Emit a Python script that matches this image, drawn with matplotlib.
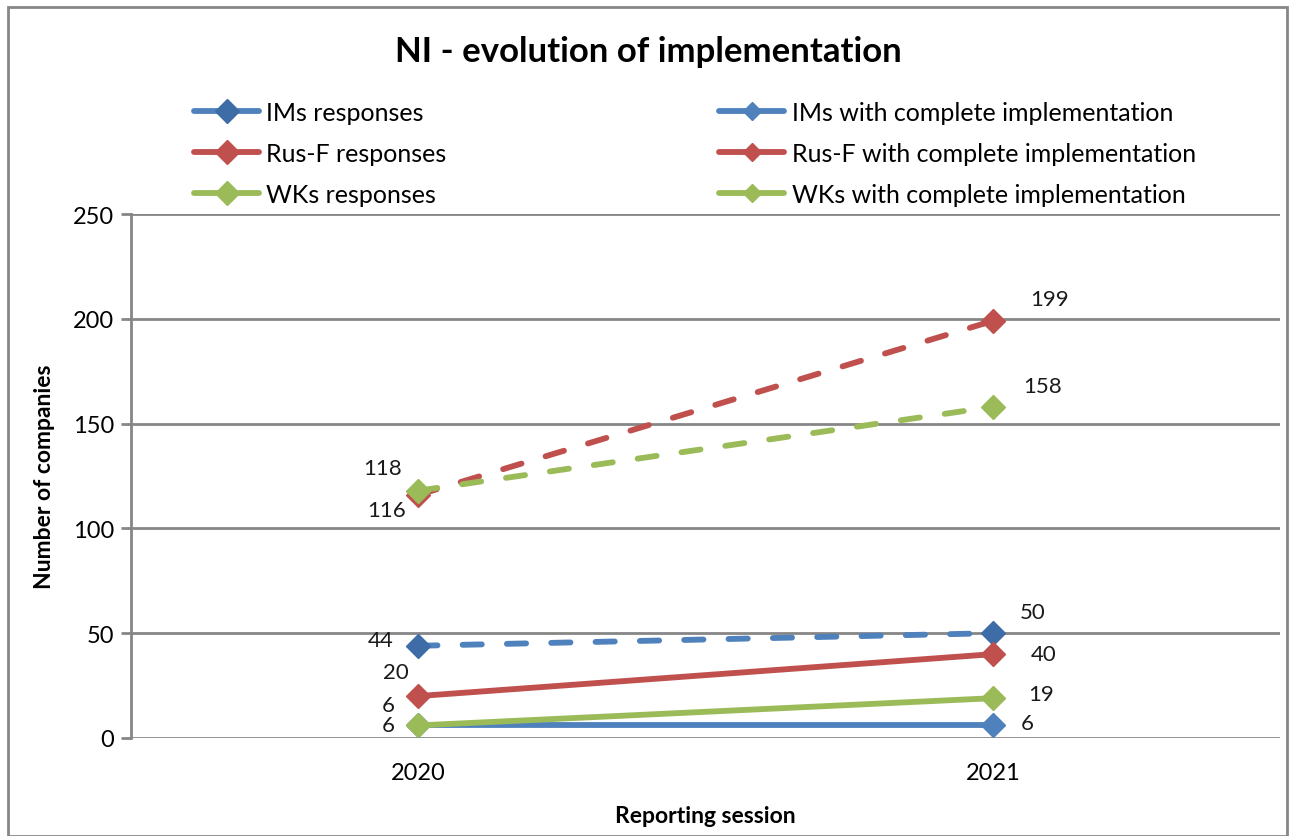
import matplotlib.pyplot as plt
from matplotlib.lines import Line2D
from matplotlib.patches import Rectangle

plt.rcParams['font.family'] = ['Lato', 'DejaVu Sans']

sessions = ["2020", "2021"]

ims_responses = [44, 50]
rusf_responses = [116, 199]
wks_responses = [118, 158]
ims_complete = [6, 6]
rusf_complete = [20, 40]
wks_complete = [6, 19]

blue = "#4F81BD"
red = "#C0504D"
green = "#9BBB59"

series = [
    ("IMs responses", ims_responses, blue, "#3E6CA6", True),
    ("Rus-F responses", rusf_responses, red, red, True),
    ("WKs responses", wks_responses, green, green, True),
    ("IMs with complete implementation", ims_complete, blue, blue, False),
    ("Rus-F with complete implementation", rusf_complete, red, red, False),
    ("WKs with complete implementation", wks_complete, green, green, False),
]

# label offsets (points) and alignment for each series at 2020 / 2021
offsets = {
    "IMs responses": [(-18, 4, "right"), (29, 15, "center")],
    "Rus-F responses": [(-9, -11, "right"), (41, 16, "center")],
    "WKs responses": [(-12, 16.5, "right"), (36, 15, "center")],
    "IMs with complete implementation": [(-17, 15, "right"), (25, 2, "center")],
    "Rus-F with complete implementation": [(-7, 17, "right"), (37, 0, "center")],
    "WKs with complete implementation": [(-17, 0, "right"), (35, 3, "center")],
}

lw = 4.2
dash = (3.3, 4.3)

fig = plt.figure(figsize=(12.9, 8.37), dpi=100)
ax = fig.add_axes([131 / 1290, 1 - 739 / 837, (1280 - 131) / 1290, (739 - 215) / 837])

x = list(range(len(sessions)))
handles = []
for label, vals, col, mcol, dashed in series:
    line, = ax.plot(x, vals, color=col, linewidth=lw, marker="D",
                    markersize=12, markerfacecolor=mcol, markeredgecolor=mcol,
                    solid_capstyle="round", dash_capstyle="round", zorder=3)
    if dashed:
        line.set_dashes(dash)
    h = Line2D([], [], color=col, linewidth=lw, marker="D",
               markersize=12 if dashed else 9,
               markerfacecolor=mcol, markeredgecolor=mcol,
               solid_capstyle="round", dash_capstyle="round")
    if dashed:
        h.set_dashes((4.0, 3.6))
    handles.append((h, label))
    for i, v in enumerate(vals):
        dx, dy, ha = offsets[label][i]
        ax.annotate(str(v), (x[i], v), xytext=(dx, dy), textcoords="offset points",
                    ha=ha, va="center", fontsize=16, color="#1a1a1a")

ax.set_xlim(-0.5, 1.5)
ax.set_ylim(0, 250)
ax.set_yticks(range(0, 251, 50))
ax.set_xticks(x)
ax.set_xticklabels(sessions)
ax.grid(axis="y", color="#868686", linewidth=2)
ax.set_axisbelow(True)
for s in ["top", "right", "bottom"]:
    ax.spines[s].set_visible(False)
ax.spines["left"].set_color("#868686")
ax.spines["left"].set_linewidth(2)
ax.tick_params(axis="y", length=7, width=2, color="#868686", labelsize=17, pad=5)
ax.tick_params(axis="x", length=0, labelsize=17, pad=17)

ax.set_ylabel("Number of companies", fontsize=16.5, fontweight="bold", labelpad=13)
ax.set_xlabel("Reporting session", fontsize=16.5, fontweight="bold", labelpad=16)

fig.text(648 / 1290, 1 - 52 / 837, "NI - evolution of implementation",
         ha="center", va="center", fontsize=25, fontweight="bold")

leg_kw = dict(loc="upper left", frameon=False, fontsize=18, handlelength=2.6,
              labelspacing=0.72, handletextpad=0.3, borderpad=0.3)
fig.legend([h for h, _ in handles[:3]], [l for _, l in handles[:3]],
           bbox_to_anchor=(174 / 1290, 1 - 82 / 837), **leg_kw)
fig.legend([h for h, _ in handles[3:]], [l for _, l in handles[3:]],
           bbox_to_anchor=(699 / 1290, 1 - 82 / 837), **leg_kw)

fig.patches.append(Rectangle((8 / 1290, 0), (1287 - 8) / 1290, 1 - 8 / 837,
                             transform=fig.transFigure, fill=False,
                             edgecolor="#868686", linewidth=2))

fig.savefig("out.png", dpi=100)
